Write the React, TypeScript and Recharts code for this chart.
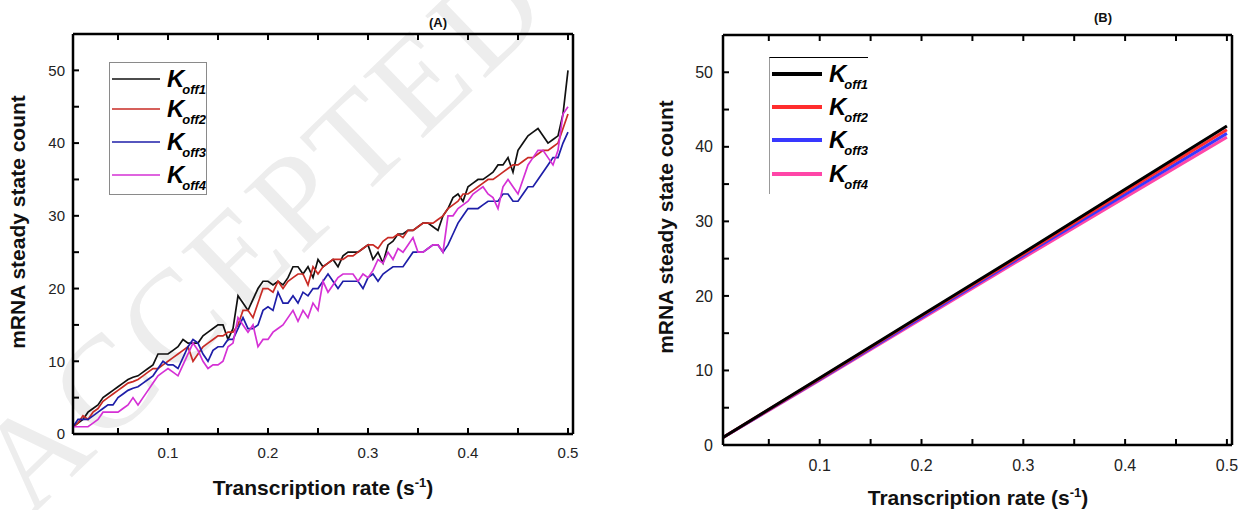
import { LineChart, Line, XAxis, YAxis, Legend } from 'recharts'

// transcription rate (s^-1), panel A sampled every 0.005
const rateA = [
  0.005, 0.01, 0.015, 0.02, 0.025, 0.03, 0.035, 0.04, 0.045, 0.05,
  0.055, 0.06, 0.065, 0.07, 0.075, 0.08, 0.085, 0.09, 0.095, 0.1,
  0.105, 0.11, 0.115, 0.12, 0.125, 0.13, 0.135, 0.14, 0.145, 0.15,
  0.155, 0.16, 0.165, 0.17, 0.175, 0.18, 0.185, 0.19, 0.195, 0.2,
  0.205, 0.21, 0.215, 0.22, 0.225, 0.23, 0.235, 0.24, 0.245, 0.25,
  0.255, 0.26, 0.265, 0.27, 0.275, 0.28, 0.285, 0.29, 0.295, 0.3,
  0.305, 0.31, 0.315, 0.32, 0.325, 0.33, 0.335, 0.34, 0.345, 0.35,
  0.355, 0.36, 0.365, 0.37, 0.375, 0.38, 0.385, 0.39, 0.395, 0.4,
  0.405, 0.41, 0.415, 0.42, 0.425, 0.43, 0.435, 0.44, 0.445, 0.45,
  0.455, 0.46, 0.465, 0.47, 0.475, 0.48, 0.485, 0.49, 0.495, 0.5,
]

const koff1A = [
  1, 1.5, 2, 3, 3.5, 4, 5, 5.5, 6, 6.5,
  7, 7.5, 7.8, 8, 8.5, 9, 9.5, 11, 11, 11,
  11.5, 12, 13, 12.5, 12.5, 12.5, 13.5, 14, 14.5, 15,
  15, 13, 14.5, 19, 18, 17, 18.5, 20, 21, 21,
  20.5, 21, 20.5, 21.5, 23, 23, 22, 23, 21.5, 24,
  23, 23.5, 24, 23, 24.5, 25, 25, 25, 25.5, 26,
  24, 25, 23.5, 26, 26.5, 27.5, 27.5, 28, 28, 28.5,
  29, 29, 28.5, 28, 30, 31, 32.5, 33, 32, 34,
  34.5, 35, 35, 35.5, 36, 37, 37, 38, 36, 39,
  40, 41, 41.5, 42, 41, 40, 40.5, 41, 44, 50,
]

const koff2A = [
  1, 1.5, 2.5, 2, 3, 3.5, 4.5, 5, 5.5, 6,
  6.5, 7, 7.2, 7.5, 8, 8.5, 9, 9, 9.5, 10,
  10.5, 11, 11.5, 12, 10, 11, 12, 12.5, 13, 13.5,
  13.5, 14, 14, 15, 17, 17, 16, 18, 20, 20,
  19.5, 21, 20, 21, 21.5, 22, 22, 20.5, 23, 22,
  23, 23.5, 24, 24, 24, 24.5, 24.5, 25, 25.5, 26,
  26, 25.5, 26.5, 27, 27, 27.5, 27, 28, 28, 28.5,
  29, 29, 29, 29.5, 30, 31, 31.5, 32, 33, 33,
  33.5, 34, 34.5, 35, 35, 35.5, 36, 36.5, 37, 37,
  37.5, 38, 38, 38.5, 39, 39, 39.5, 40, 42, 44,
]

const koff3A = [
  1, 2, 2, 2, 2.5, 3, 3.5, 4, 4, 5,
  5.5, 6, 6.3, 6.5, 7, 7.5, 8, 9, 10, 9.5,
  9.5, 9, 10.5, 12, 13, 12.5, 11, 10, 11.5, 12,
  12, 13, 13, 14.5, 16, 14.5, 14.5, 15, 17, 17.5,
  17, 19.5, 18, 18, 19, 18, 19.5, 19, 20, 20,
  21, 22, 21, 20, 21, 21, 21, 21, 20, 21.5,
  22, 21, 22, 22.5, 23, 23, 23, 24, 25, 25,
  25, 25.5, 26, 26, 25, 26, 27.5, 29, 30, 31,
  31, 31, 31.5, 32, 32, 32, 33, 33, 32, 32,
  33, 34, 34, 35, 36, 37, 38, 38, 40, 41.5,
]

const koff4A = [
  1, 1, 1, 1, 1.5, 2, 3, 3, 3, 3,
  3.5, 4, 5, 4, 5, 6, 7, 8, 8.5, 9,
  8.5, 8, 9.5, 11, 12.5, 11.5, 10, 9, 9.5, 9.5,
  10, 12, 12.5, 16, 15, 14, 15, 12, 13, 13,
  14, 14.5, 15, 16, 17, 15.5, 17, 16, 18, 17,
  21, 19.5, 20.5, 21.5, 22, 22, 22, 21, 22, 21.5,
  22.5, 24, 23.5, 25, 24, 25.5, 25, 26, 27, 25,
  25, 25.5, 26, 26, 25, 30, 30, 31, 31.5, 32,
  33, 33.5, 34, 33, 32.5, 31, 34, 35, 34, 33,
  35, 37, 38, 39, 39, 38, 37, 39, 44, 45,
]

// panel B: analytic curves are straight lines
const rateB = [0.005, 0.1, 0.2, 0.3, 0.4, 0.5]
const koff1B = [1.0, 9.0, 17.4, 25.8, 34.3, 42.8]
const koff2B = [1.0, 8.9, 17.3, 25.6, 34.0, 42.3]
const koff3B = [1.0, 8.8, 17.1, 25.4, 33.6, 41.8]
const koff4B = [1.0, 8.7, 16.9, 25.1, 33.2, 41.3]

const xTicks = [0.05, 0.1, 0.15, 0.2, 0.25, 0.3, 0.35, 0.4, 0.45, 0.5]
const yTicks = [0, 5, 10, 15, 20, 25, 30, 35, 40, 45, 50]
const subs = ['off1', 'off2', 'off3', 'off4']
const keys = ['k1', 'k2', 'k3', 'k4']

const colorsA = ['#111111', '#c92b25', '#1e1ea8', '#d531d5']
const colorsB = ['#000000', '#ff2d2d', '#3838ff', '#ff46a8']

const FONT = 'Arial, "Liberation Sans", sans-serif'

const dataA = rateA.map((x, i) => ({ x, k1: koff1A[i], k2: koff2A[i], k3: koff3A[i], k4: koff4A[i] }))
const dataB = rateB.map((x, i) => ({ x, k1: koff1B[i], k2: koff2B[i], k3: koff3B[i], k4: koff4B[i] }))

const fmtX = (v: number) => (Math.round(v * 100) % 10 === 0 ? v.toFixed(1) : '')
const fmtY = (v: number) => (v % 10 === 0 ? String(v) : '')
const blank = () => ''

function frame(fontSize: number, xHeight: number, xMargin: number, yMargin: number) {
  const line = { stroke: '#000', strokeWidth: 2.5 }
  const tl = { stroke: '#000', strokeWidth: 2 }
  const tick = { fontSize, fill: '#222', fontFamily: FONT }
  return [
    <XAxis key="xb" xAxisId="b" dataKey="x" type="number" domain={[0.005, 0.505]} ticks={xTicks}
      allowDataOverflow interval={0} height={xHeight} tickSize={-6} tickMargin={xMargin}
      tickFormatter={fmtX} axisLine={line} tickLine={tl} tick={tick} />,
    <XAxis key="xt" xAxisId="t" orientation="top" dataKey="x" type="number" domain={[0.005, 0.505]}
      ticks={xTicks} allowDataOverflow interval={0} height={10} tickSize={-6}
      tickFormatter={blank} axisLine={line} tickLine={tl} />,
    <YAxis key="yl" yAxisId="l" type="number" domain={[0, 55]} ticks={yTicks} interval={0}
      width={50} tickSize={-6} tickMargin={yMargin} tickFormatter={fmtY}
      axisLine={line} tickLine={tl} tick={tick} />,
    <YAxis key="yr" yAxisId="r" orientation="right" type="number" domain={[0, 55]} ticks={yTicks}
      interval={0} width={10} tickSize={-6} tickFormatter={blank} axisLine={line} tickLine={tl} />,
  ]
}

function KoffLegend({ payload, colors, w, h, rowY, lineEnd, lineW, border }: any) {
  const items = keys.map((k, i) => ({
    key: k,
    sub: subs[i],
    color: (payload || []).find((p: any) => p.dataKey === k)?.color ?? colors[i],
  }))
  return (
    <svg width={w} height={h} style={{ display: 'block', background: '#fff', ...border }}>
      {items.map((it, i) => (
        <g key={it.key}>
          <line x1={2} x2={lineEnd} y1={rowY[i]} y2={rowY[i]} stroke={it.color} strokeWidth={lineW} />
          <text x={lineEnd + 7} y={rowY[i] + 8} fontFamily={FONT} fontWeight="bold" fontStyle="italic"
            fontSize={24} fill="#000">
            K
            <tspan dy={7} dx={-2} fontSize={13}>{it.sub}</tspan>
          </text>
        </g>
      ))}
    </svg>
  )
}

const title: React.CSSProperties = {
  position: 'absolute',
  fontFamily: FONT,
  fontWeight: 'bold',
  color: '#111',
  whiteSpace: 'nowrap',
  transform: 'translate(-50%, -50%)',
}

function XTitle({ cx, cy }: { cx: number; cy: number }) {
  return (
    <div style={{ ...title, left: cx, top: cy, fontSize: 21 }}>
      Transcription rate (s<sup style={{ fontSize: 13 }}>-1</sup>)
    </div>
  )
}

function YTitle({ cx, cy }: { cx: number; cy: number }) {
  return (
    <div style={{ ...title, left: cx, top: cy, fontSize: 21, transform: 'translate(-50%, -50%) rotate(-90deg)' }}>
      mRNA steady state count
    </div>
  )
}

export default function App() {
  return (
    <div style={{ position: 'absolute', left: 0, top: 0, width: 1244, height: 510, background: '#fff', overflow: 'hidden' }}>
      <svg width={1244} height={510} style={{ position: 'absolute', left: 0, top: 0 }}>
        <text x={262} y={232} transform="rotate(-44 262 232)" textAnchor="middle" dominantBaseline="central"
          fontFamily='"Liberation Serif", serif' fontSize={132} fill="#ededed" letterSpacing={6}>
          ACCEPTED
        </text>
      </svg>

      <div style={{ position: 'absolute', left: 0, top: 0 }}>
        <LineChart width={620} height={510} data={dataA} margin={{ top: 24, right: 37, bottom: 0, left: 23 }}>
          {frame(15, 76, 19, 14)}
          {keys.map((k, i) => (
            <Line key={k} xAxisId="b" yAxisId="l" dataKey={k} name={subs[i]} type="linear"
              stroke={colorsA[i]} strokeWidth={1.7} dot={false} isAnimationActive={false} />
          ))}
          <Legend
            layout="horizontal"
            verticalAlign="middle"
            align="center"
            wrapperStyle={{ left: 109, top: 62, width: 'auto' }}
            content={(p: any) => (
              <KoffLegend payload={p.payload} colors={colorsA} w={96} h={131} rowY={[16, 46, 79, 112]}
                lineEnd={50} lineW={1.7} border={{ border: '1px solid #8a8a8a' }} />
            )}
          />
        </LineChart>
      </div>

      <div style={{ position: 'absolute', left: 640, top: 0 }}>
        <LineChart width={604} height={510} data={dataB} margin={{ top: 25, right: 2, bottom: 0, left: 33 }}>
          {frame(16, 65, 21, 16)}
          {[3, 2, 1, 0].map((i) => (
            <Line key={keys[i]} xAxisId="b" yAxisId="l" dataKey={keys[i]} name={subs[i]} type="linear"
              stroke={colorsB[i]} strokeWidth={3} dot={false} isAnimationActive={false} />
          ))}
          <Legend
            layout="horizontal"
            verticalAlign="middle"
            align="center"
            wrapperStyle={{ left: 129, top: 57, width: 'auto' }}
            content={(p: any) => (
              <KoffLegend payload={p.payload} colors={colorsB} w={98} h={136} rowY={[16, 49, 82, 116]}
                lineEnd={52} lineW={4} border={{ borderTop: '1.5px solid #000', borderLeft: '1px solid #999' }} />
            )}
          />
        </LineChart>
      </div>

      <div style={{ ...title, left: 438, top: 22, fontSize: 13 }}>(A)</div>
      <div style={{ ...title, left: 1103, top: 17, fontSize: 13 }}>(B)</div>
      <YTitle cx={18} cy={222} />
      <YTitle cx={666} cy={227} />
      <XTitle cx={323} cy={487} />
      <XTitle cx={978} cy={497} />
    </div>
  )
}
